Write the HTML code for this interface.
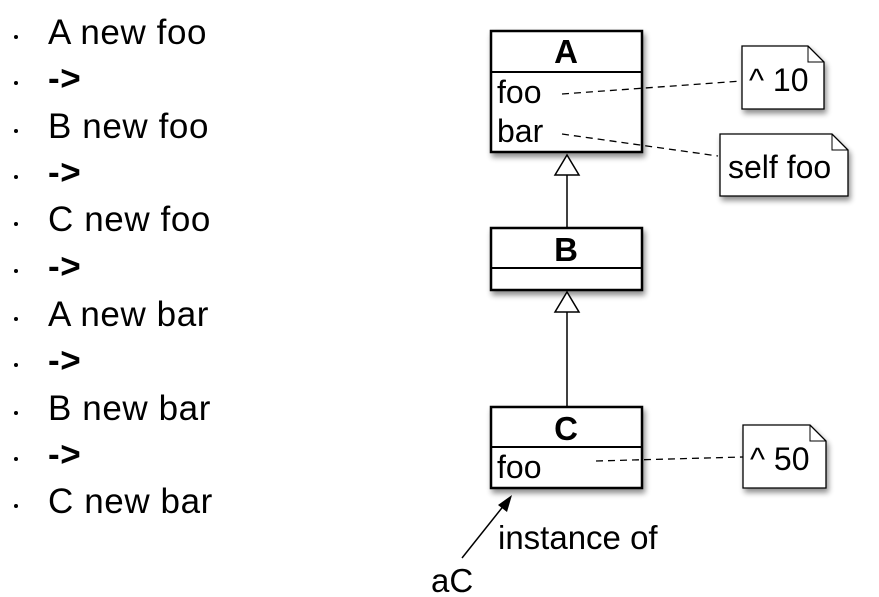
<!DOCTYPE html>
<html><head><style>
html,body{margin:0;padding:0;background:#fff;}
body{width:879px;height:597px;position:relative;overflow:hidden;font-family:"Liberation Sans",sans-serif;}
.li{position:absolute;left:48px;font-size:35px;color:#000;line-height:1;letter-spacing:0.6px;}
.b{position:absolute;left:14px;width:4px;height:4px;background:#000;border-radius:50%;}
</style></head><body>
<div class="b" style="top:35px"></div><div class="li" style="top:15px">A new foo</div>
<div class="b" style="top:81px"></div><div class="li" style="top:61px;font-weight:bold">-&gt;</div>
<div class="b" style="top:129px"></div><div class="li" style="top:109px">B new foo</div>
<div class="b" style="top:175px"></div><div class="li" style="top:155px;font-weight:bold">-&gt;</div>
<div class="b" style="top:222px"></div><div class="li" style="top:202px">C new foo</div>
<div class="b" style="top:269px"></div><div class="li" style="top:249px;font-weight:bold">-&gt;</div>
<div class="b" style="top:317px"></div><div class="li" style="top:297px">A new bar</div>
<div class="b" style="top:363px"></div><div class="li" style="top:343px;font-weight:bold">-&gt;</div>
<div class="b" style="top:411px"></div><div class="li" style="top:391px">B new bar</div>
<div class="b" style="top:457px"></div><div class="li" style="top:437px;font-weight:bold">-&gt;</div>
<div class="b" style="top:504px"></div><div class="li" style="top:484px">C new bar</div>
<svg width="879" height="597" style="position:absolute;left:0;top:0" font-family="Liberation Sans, sans-serif">
<defs><filter id="s" x="-20%" y="-20%" width="150%" height="150%"><feGaussianBlur in="SourceAlpha" stdDeviation="3"/><feOffset dx="2" dy="4"/><feComponentTransfer><feFuncA type="linear" slope="0.45"/></feComponentTransfer><feMerge><feMergeNode/><feMergeNode in="SourceGraphic"/></feMerge></filter></defs>
<g stroke="#000" stroke-width="2.5" fill="#fff" filter="url(#s)">
<rect x="491" y="31" width="151" height="121"/>
<rect x="491" y="228" width="151" height="62"/>
<rect x="491" y="407" width="151" height="81"/>
</g>
<g stroke="#000" stroke-width="2">
<line x1="491" y1="72" x2="642" y2="72"/>
<line x1="491" y1="268" x2="642" y2="268"/>
<line x1="491" y1="447" x2="642" y2="447"/>
</g>
<g stroke="#000" stroke-width="1.5" fill="#fff">
<line x1="567" y1="175" x2="567" y2="228"/>
<polygon points="567,155 555,175 579,175"/>
<line x1="567" y1="312" x2="567" y2="407"/>
<polygon points="567,292 555,312 579,312"/>
</g>
<g stroke="#000" stroke-width="1.3" fill="#fff" filter="url(#s)">
<path d="M742,46 H808 L824,62 V109 H742 Z"/>
<path d="M720,134 H832 L848,150 V196 H720 Z"/>
<path d="M743,425 H810 L826,441 V488 H743 Z"/>
</g>
<g stroke="#000" stroke-width="1" fill="none">
<path d="M808,46 V62 H824"/><path d="M832,134 V150 H848"/><path d="M810,425 V441 H826"/>
</g>
<g stroke="#000" stroke-width="1.3" stroke-dasharray="7,5">
<line x1="562" y1="94" x2="742" y2="81"/>
<line x1="562" y1="134" x2="718" y2="156"/>
<line x1="596" y1="461" x2="743" y2="457"/>
</g>
<line x1="462" y1="558" x2="505" y2="504" stroke="#000" stroke-width="1.5"/>
<polygon points="512,495 498,505 507,512" fill="#000"/>
<g font-size="32" fill="#000">
<text x="566" y="63" text-anchor="middle" font-weight="bold" font-size="33">A</text>
<text x="566" y="261" text-anchor="middle" font-weight="bold" font-size="33">B</text>
<text x="566" y="440" text-anchor="middle" font-weight="bold" font-size="33">C</text>
<text x="497" y="103">foo</text>
<text x="497" y="142">bar</text>
<text x="497" y="478">foo</text>
<text x="749" y="91">^ 10</text>
<text x="728" y="178">self foo</text>
<text x="750" y="470">^ 50</text>
<text x="498" y="549" font-size="33">instance of</text>
<text x="431" y="592" font-size="33">aC</text>
</g>
</svg>
</body></html>
